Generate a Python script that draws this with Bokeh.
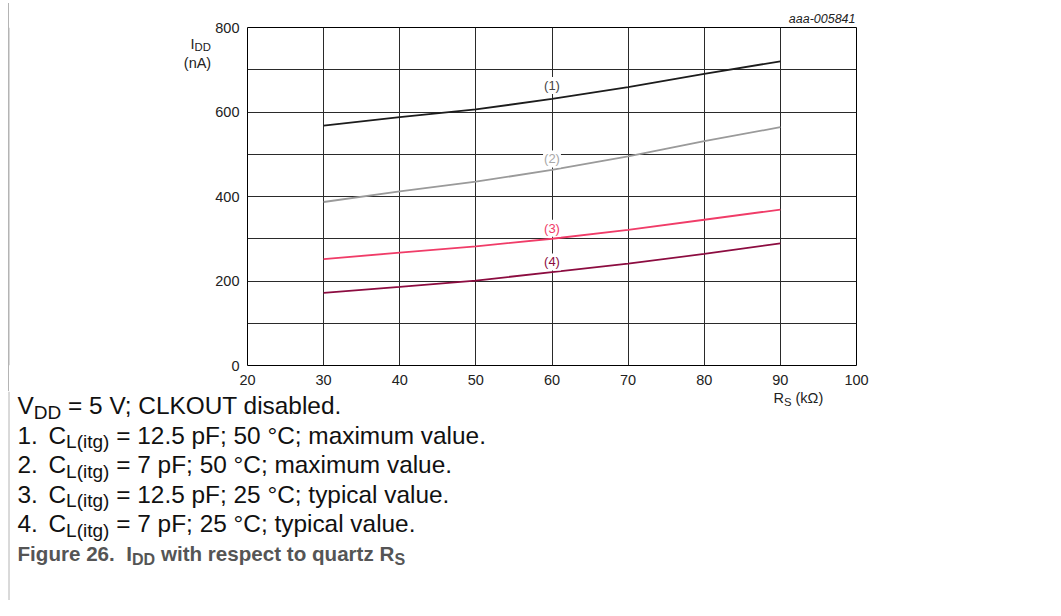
from bokeh.plotting import figure
from bokeh.models import FixedTicker, ColumnDataSource, Range1d
from bokeh.layouts import column, row
from bokeh.core.properties import value
from bokeh.embed import file_html
from bokeh.resources import INLINE

# ---------------- data ----------------
rs_kohm = [30, 40, 50, 60, 70, 80, 90]
idd_curve1 = [568, 588, 606, 631, 659, 690, 720]
idd_curve2 = [387, 412, 435, 463, 495, 531, 564]
idd_curve3 = [252, 267, 282, 300, 321, 345, 369]
idd_curve4 = [172, 186, 201, 221, 241, 264, 289]
curve_names = ["(1)", "(2)", "(3)", "(4)"]
curve_label_x = [60, 60, 60, 60]
curve_label_y = [663, 489, 325, 245]
x_ticks = [20, 30, 40, 50, 60, 70, 80, 90, 100]
y_ticks = [0, 200, 400, 600, 800]
y_grid = [0, 100, 200, 300, 400, 500, 600, 700, 800]

figure_id = "aaa-005841"
y_title = [("I", 0), ("DD", 1)]
y_unit = "(nA)"
x_title = [("R", 0), ("S", 1), (" (kΩ)", 0)]
caption_condition = [("V", 0), ("DD", 1), (" = 5 V; CLKOUT disabled.", 0)]
caption_items = [
    ("1.", [("C", 0), ("L(itg)", 1), (" = 12.5 pF; 50 °C; maximum value.", 0)]),
    ("2.", [("C", 0), ("L(itg)", 1), (" = 7 pF; 50 °C; maximum value.", 0)]),
    ("3.", [("C", 0), ("L(itg)", 1), (" = 12.5 pF; 25 °C; typical value.", 0)]),
    ("4.", [("C", 0), ("L(itg)", 1), (" = 7 pF; 25 °C; typical value.", 0)]),
]
figure_title_num = "Figure 26."
figure_title = [("I", 0), ("DD", 1), (" with respect to quartz R", 0), ("S", 1)]

# ---------------- layout / styling ----------------
W, H = 1045, 600
TOP_H = 3             # thin strip holding the outer frame line
MID_H = 388           # chart row height
CAP_H = H - TOP_H - MID_H
LEFT_W = 212
BORDER_T, BORDER_B = 24, 26          # chart borders above / below the plot frame
FRAME_TOP = TOP_H + BORDER_T         # page y of the plot frame top
FRAME_BOTTOM = TOP_H + MID_H - BORDER_B
FONT = "Liberation Sans"
line_colors = ["#1c1c1c", "#9a9a9a", "#f03c68", "#8c0c40"]
label_colors = ["#444444", "#a8a8a8", "#f03c68", "#8c0c40"]
INK = "#111111"
AXIS_INK = "#222222"
FRAME_GREY = "#b4b4b4"

REG = {' ': 278, '(': 333, ')': 333, '.': 278, '-': 333, ';': 278, '=': 584, '°': 400, 'Ω': 768,
       'A': 667, 'C': 722, 'D': 722, 'F': 611, 'I': 278, 'K': 667, 'L': 556, 'O': 778, 'R': 722,
       'S': 667, 'T': 611, 'U': 722, 'V': 667, 'a': 556, 'b': 556, 'c': 500, 'd': 556, 'e': 556,
       'g': 556, 'i': 222, 'k': 500, 'l': 222, 'm': 833, 'n': 556, 'p': 556, 's': 500, 't': 278,
       'u': 556, 'v': 500, 'x': 500, 'y': 500}
BOLD = {' ': 278, '.': 278, 'D': 722, 'F': 611, 'I': 278, 'R': 722, 'S': 667, 'a': 556, 'c': 556,
        'e': 556, 'g': 611, 'h': 611, 'i': 278, 'o': 611, 'p': 611, 'q': 611, 'r': 389, 's': 556,
        't': 333, 'u': 611, 'w': 778, 'z': 500}


def tw(s, size, bold=False):
    tab = BOLD if bold else REG
    return sum((556 if ch.isdigit() else tab.get(ch, 556)) for ch in s) / 1000.0 * size


def text_fig(w, h, y_top=0.0, y_bottom=None):
    y_bottom = h if y_bottom is None else y_bottom
    f = figure(width=w, height=h, x_range=Range1d(0, w), y_range=Range1d(y_bottom, y_top),
               output_backend="svg", toolbar_location=None,
               x_axis_location=None, y_axis_location=None,
               min_border=0, min_border_left=0, min_border_right=0,
               min_border_top=0, min_border_bottom=0)
    f.grid.visible = False
    f.outline_line_color = None
    f.background_fill_color = "white"
    f.border_fill_color = "white"
    return f


def put(f, x, y, txt, size, color, bold=False, italic=False, align="left"):
    style = "bold" if bold else ("italic" if italic else "normal")
    f.text(x=[x], y=[y], text=[txt], text_font=value(FONT), text_font_size=f"{size:.2f}px",
           text_color=color, text_font_style=style, text_align=align,
           text_baseline="middle")


def put_runs(f, x0, yc, segs, size, color, bold=False, sub_scale=0.78):
    """yc = vertical centre of the main-size text; subscripts sit lower."""
    x = x0
    for txt, sub in segs:
        fs = size * sub_scale if sub else size
        stripped = txt.lstrip(" ")
        x += tw(txt[: len(txt) - len(stripped)], fs, bold)
        put(f, x, yc + (0.27 * size if sub else 0), stripped, fs, color, bold=bold)
        x += tw(stripped, fs, bold)
    return x


# ---------- top strip (outer frame line) ----------
top = text_fig(W, TOP_H)
top.segment(x0=[8.5, 8.5], y0=[2.5, 2.5], x1=[W, 8.5], y1=[2.5, TOP_H],
            line_color=FRAME_GREY, line_width=1)

# ---------- left strip (y title) ----------
# Bokeh lines up the plot frames of a row, so this strip's frame spans the
# same page rows as the chart frame; its y range is expressed in page pixels.
left = text_fig(LEFT_W, MID_H, y_top=FRAME_TOP, y_bottom=FRAME_BOTTOM)
left.background_fill_alpha = 0
left.border_fill_alpha = 0
left.styles = {"background-image": "linear-gradient(to right, rgba(0,0,0,0) 8px, "
               + FRAME_GREY + " 8px, " + FRAME_GREY + " 9px, rgba(0,0,0,0) 9px)"}
left.segment(x0=[8.5], y0=[FRAME_TOP], x1=[8.5], y1=[FRAME_BOTTOM],
             line_color=FRAME_GREY, line_width=1)
put_runs(left, 190, 43, y_title, 14.5, AXIS_INK)
put(left, 197, 62, y_unit, 14.5, AXIS_INK, align="center")

# ---------- chart ----------
p = figure(width=W - LEFT_W, height=MID_H, x_range=(20, 100), y_range=(0, 800),
           output_backend="svg", toolbar_location=None, title=figure_id,
           min_border_left=33, min_border_right=189,
           min_border_top=BORDER_T, min_border_bottom=BORDER_B)
p.title.align = "right"
p.title.vertical_align = "middle"
p.title.standoff = 2
p.title.offset = 1
p.title.text_font = FONT
p.title.text_font_size = "12.5px"
p.title.text_font_style = "italic"
p.title.text_color = AXIS_INK
p.background_fill_color = "white"
p.border_fill_color = "white"
p.outline_line_color = "black"
p.outline_line_width = 1

p.xaxis.ticker = FixedTicker(ticks=x_ticks)
p.yaxis.ticker = FixedTicker(ticks=y_ticks)
p.ygrid.ticker = FixedTicker(ticks=y_grid)
p.xgrid.ticker = FixedTicker(ticks=x_ticks)
for g in (p.xgrid, p.ygrid):
    g.grid_line_color = "#2a2a2a"
    g.grid_line_width = 1
for ax in (p.xaxis, p.yaxis):
    ax.axis_line_color = None
    ax.major_tick_line_color = None
    ax.minor_tick_line_color = None
    ax.major_tick_out = 0
    ax.major_tick_in = 0
    ax.minor_tick_out = 0
    ax.major_label_text_font = FONT
    ax.major_label_text_font_size = "14.5px"
    ax.major_label_text_color = AXIS_INK
p.yaxis.major_label_standoff = 8
p.xaxis.major_label_standoff = 9

for ys, c in zip([idd_curve1, idd_curve2, idd_curve3, idd_curve4], line_colors):
    p.line(rs_kohm, ys, line_color=c, line_width=1.8)

src = ColumnDataSource(dict(x=curve_label_x, y=curve_label_y, t=curve_names, c=label_colors))
p.text(x="x", y="y", text="t", source=src, text_color="c", text_font=value(FONT),
       text_font_size="13px", text_align="center", text_baseline="middle",
       background_fill_color="white", padding=1)

# ---------- caption strip (x title + notes) ----------
OFF = TOP_H + MID_H
cap = text_fig(W, CAP_H, y_top=OFF, y_bottom=OFF + CAP_H)
cap.segment(x0=[8.5], y0=[OFF], x1=[8.5], y1=[OFF + CAP_H], line_color=FRAME_GREY, line_width=1)
put_runs(cap, 773, 397.5, x_title, 14.5, AXIS_INK)

CAP = 24.4
pitch = 29.6
c0 = 405
put_runs(cap, 17, c0, caption_condition, CAP, INK)
for i, (num, segs) in enumerate(caption_items):
    yc = c0 + pitch * (i + 1)
    put(cap, 17, yc, num, CAP, INK)
    put_runs(cap, 48, yc, segs, CAP, INK)
yf = c0 + pitch * 5
FS = 20.6
put(cap, 17, yf, figure_title_num, FS, "#555555", bold=True)
put_runs(cap, 17 + tw(figure_title_num + "  ", FS, True), yf, figure_title, FS, "#555555", bold=True)

layout = column(top, row(left, p, spacing=0), cap, spacing=0)

open("out.html", "w").write(file_html(layout, INLINE))
